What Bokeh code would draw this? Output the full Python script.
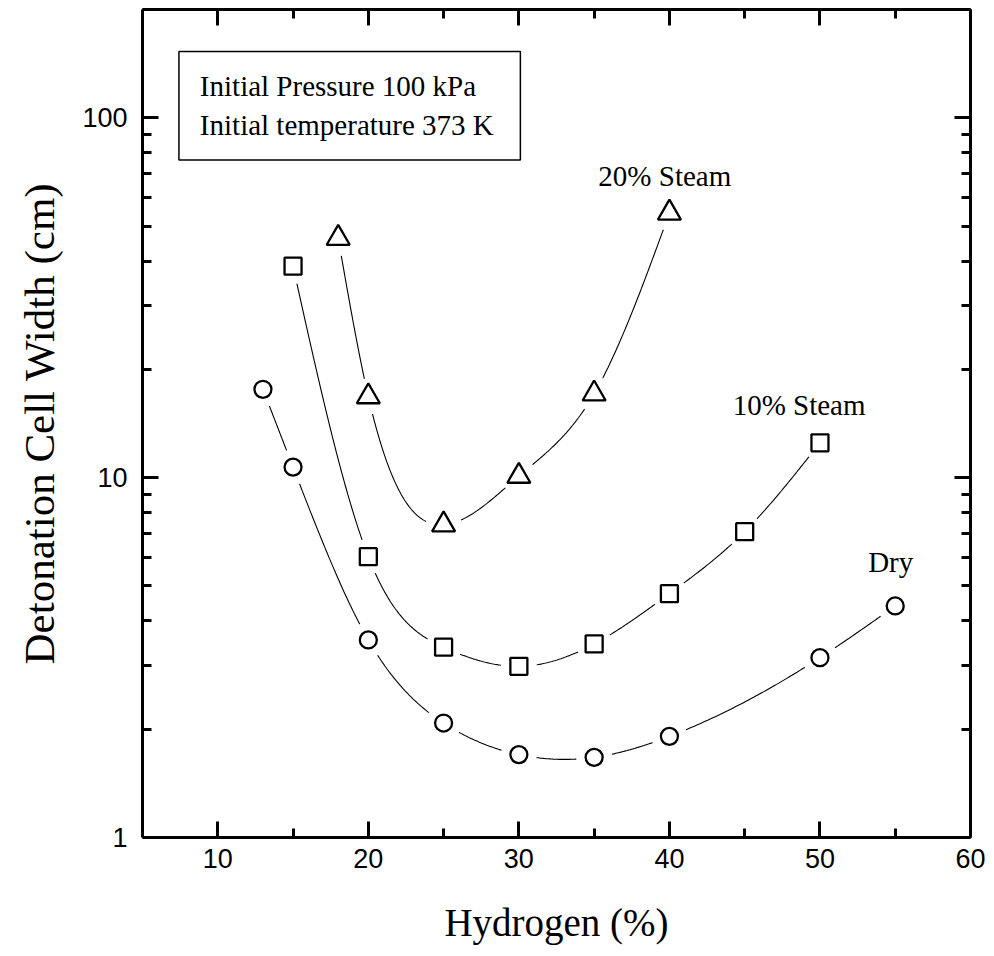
import numpy as np
from bokeh.plotting import figure
from bokeh.models import (LinearAxis, LogAxis, SingleIntervalTicker, FixedTicker,
                          BasicTickFormatter, Label, Range1d)
from bokeh.embed import file_html
from bokeh.resources import INLINE

# ---- data ----
hydrogen_dry = [13, 15, 20, 25, 30, 35, 40, 50, 55]
cell_dry = [17.6, 10.7, 3.54, 2.08, 1.70, 1.67, 1.91, 3.16, 4.40]

hydrogen_s10 = [15, 20, 25, 30, 35, 40, 45, 50]
cell_s10 = [38.7, 6.03, 3.38, 2.99, 3.45, 4.76, 7.08, 12.5]

hydrogen_s20 = [18, 20, 25, 30, 35, 40]
cell_s20 = [46.3, 16.8, 7.40, 10.1, 17.1, 54.4]

x_major = [10, 20, 30, 40, 50, 60]
x_minor = [15, 25, 35, 45, 55]
y_major = [1, 10, 100]
y_minor = [2, 3, 4, 5, 6, 7, 8, 9, 20, 30, 40, 50, 60, 70, 80, 90, 200]

SERIF = "Liberation Serif"
SANS = "Liberation Sans"


def spline_curve(xs, ys, n=60):
    """Natural cubic spline through the data in (x, log10 y) space."""
    x = np.asarray(xs, float)
    y = np.log10(np.asarray(ys, float))
    k = len(x)
    h = np.diff(x)
    A = np.zeros((k, k))
    b = np.zeros(k)
    A[0, 0] = A[-1, -1] = 1.0
    for i in range(1, k - 1):
        A[i, i - 1] = h[i - 1]
        A[i, i] = 2 * (h[i - 1] + h[i])
        A[i, i + 1] = h[i]
        b[i] = 6 * ((y[i + 1] - y[i]) / h[i] - (y[i] - y[i - 1]) / h[i - 1])
    M = np.linalg.solve(A, b)
    xx, yy = [], []
    for i in range(k - 1):
        t = np.linspace(x[i], x[i + 1], n)
        a = x[i + 1] - t
        c = t - x[i]
        s = ((M[i] * a ** 3 + M[i + 1] * c ** 3) / (6 * h[i])
             + (y[i] / h[i] - M[i] * h[i] / 6) * a
             + (y[i + 1] / h[i] - M[i + 1] * h[i] / 6) * c)
        xx.extend(t.tolist())
        yy.extend((10 ** s).tolist())
    return xx, yy


p = figure(width=990, height=950, y_axis_type="log",
           x_range=Range1d(5, 60), y_range=Range1d(1, 200),
           output_backend="svg", toolbar_location=None,
           min_border_left=142, min_border_right=20,
           min_border_top=9, min_border_bottom=113)
p.outline_line_color = None
p.xgrid.visible = False
p.ygrid.visible = False
p.background_fill_color = "white"
p.border_fill_color = "white"


def style_ticks(ax):
    ax.axis_line_width = 3
    ax.axis_line_color = "black"
    ax.major_tick_in = 16
    ax.major_tick_out = 0
    ax.minor_tick_in = 9
    ax.minor_tick_out = 0
    ax.major_tick_line_width = 3
    ax.minor_tick_line_width = 3
    ax.major_tick_line_color = "black"
    ax.minor_tick_line_color = "black"


xa = p.xaxis[0]
xa.ticker = FixedTicker(ticks=x_major, minor_ticks=x_minor)
style_ticks(xa)
xa.major_label_text_font = SANS
xa.major_label_text_font_size = "27px"
xa.major_label_text_color = "black"
xa.major_label_standoff = 11
xa.axis_label = "Hydrogen (%)"
xa.axis_label_text_font = SERIF
xa.axis_label_text_font_size = "39px"
xa.axis_label_text_font_style = "normal"
xa.axis_label_text_color = "black"
xa.axis_label_standoff = 30

ya = p.yaxis[0]
ya.ticker = FixedTicker(ticks=y_major, minor_ticks=y_minor)
ya.formatter = BasicTickFormatter()
style_ticks(ya)
ya.major_label_text_font = SANS
ya.major_label_text_font_size = "27px"
ya.major_label_text_color = "black"
ya.major_label_standoff = 15
ya.axis_label = "Detonation Cell Width (cm)"
ya.axis_label_text_font = SERIF
ya.axis_label_text_font_size = "43px"
ya.axis_label_text_font_style = "normal"
ya.axis_label_text_color = "black"
ya.axis_label_standoff = 16


def tick_only_axis(kind, ticks, length, draw_line):
    """Axis with only (label-less) tick marks pointing into the frame."""
    ax = (LinearAxis if kind == "lin" else LogAxis)(
        ticker=FixedTicker(ticks=[], minor_ticks=ticks))
    ax.axis_line_width = 3
    ax.axis_line_color = "black" if draw_line else None
    ax.major_tick_out = 0
    ax.major_tick_in = 0
    ax.minor_tick_in = length
    ax.minor_tick_out = 0
    ax.minor_tick_line_width = 3
    ax.minor_tick_line_color = "black"
    ax.major_label_standoff = 0
    return ax


p.add_layout(tick_only_axis("lin", x_major, 16, True), "above")
p.add_layout(tick_only_axis("lin", x_minor, 9, False), "above")
p.add_layout(tick_only_axis("log", y_major, 16, True), "right")
p.add_layout(tick_only_axis("log", y_minor, 9, False), "right")

# ---- smooth curves ----
series = [
    (hydrogen_dry, cell_dry, "circle", 17),
    (hydrogen_s10, cell_s10, "square", 17),
    (hydrogen_s20, cell_s20, "triangle", 23),
]
for xs, ys, _, _ in series:
    cx, cy = spline_curve(xs, ys)
    p.line(cx, cy, line_color="black", line_width=1.1)

# white gaps around the symbols
for xs, ys, _, _ in series:
    p.scatter(xs, ys, marker="circle", size=36, fill_color="white", line_color=None)

# symbols
for xs, ys, marker, size in series:
    p.scatter(xs, ys, marker=marker, size=size, fill_color="white",
              line_color="black", line_width=2.3)

# ---- info box ----
p.quad(left=[7.42], right=[30.1], top=[152.8], bottom=[76.4],
       fill_color=None, line_color="black", line_width=1.5)
p.add_layout(Label(x=8.81, y=122.7, text="Initial Pressure 100 kPa",
                   text_font=SERIF, text_font_size="29px", text_color="black",
                   text_baseline="alphabetic", text_align="left"))
p.add_layout(Label(x=8.81, y=95.5, text="Initial temperature 373 K",
                   text_font=SERIF, text_font_size="29px", text_color="black",
                   text_baseline="alphabetic", text_align="left"))

# ---- series labels ----
for tx, ty, txt in [(35.28, 68.9, "20% Steam"), (44.2, 15.97, "10% Steam"),
                    (53.2, 5.84, "Dry")]:
    p.add_layout(Label(x=tx, y=ty, text=txt, text_font=SERIF,
                       text_font_size="29px", text_color="black",
                       text_baseline="alphabetic", text_align="left"))

open("out.html", "w").write(file_html(p, INLINE))
